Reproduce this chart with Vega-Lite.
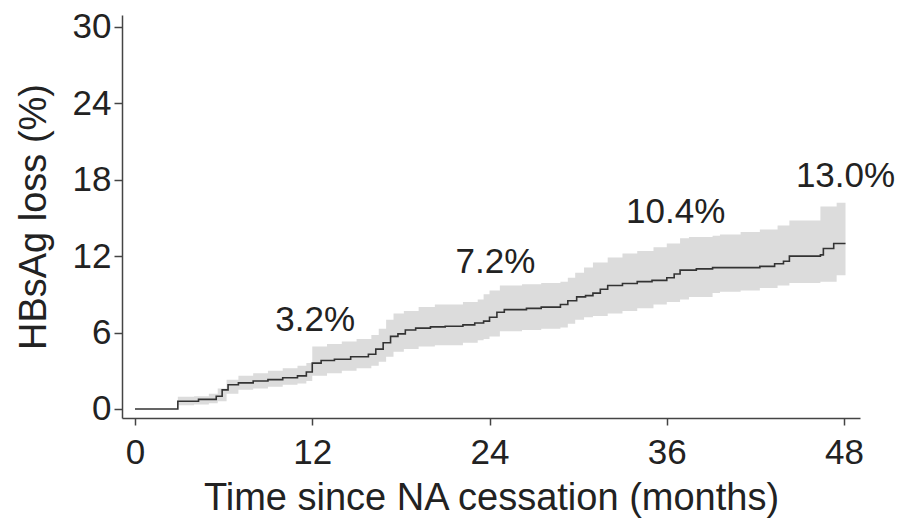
{
  "$schema": "https://vega.github.io/schema/vega-lite/v6.json",
  "width": 738,
  "height": 403,
  "autosize": "none",
  "padding": {"left": 122, "top": 15, "right": 44, "bottom": 102},
  "background": "white",
  "config": {
    "view": {"stroke": null},
    "font": "Liberation Sans",
    "axis": {
      "grid": false,
      "domainColor": "#444444",
      "domainWidth": 1.5,
      "tickColor": "#444444",
      "tickWidth": 1.5,
      "labelColor": "#222222",
      "titleColor": "#222222",
      "labelFont": "Liberation Sans",
      "titleFont": "Liberation Sans",
      "labelFontSize": 35,
      "titleFontSize": 38,
      "titleFontWeight": "normal"
    }
  },
  "datasets": {
    "ci": [
      {"t": 0, "lo": 0, "hi": 0},
      {"t": 2.9, "lo": 0.3, "hi": 0.95},
      {"t": 4.0, "lo": 0.35, "hi": 1.0},
      {"t": 5.0, "lo": 0.45, "hi": 1.2},
      {"t": 5.6, "lo": 0.6, "hi": 1.6},
      {"t": 6.2, "lo": 1.2, "hi": 2.3},
      {"t": 7, "lo": 1.5, "hi": 2.6},
      {"t": 8, "lo": 1.6, "hi": 2.8},
      {"t": 9, "lo": 1.75, "hi": 3.0},
      {"t": 10, "lo": 1.9, "hi": 3.2},
      {"t": 11, "lo": 2.0, "hi": 3.4},
      {"t": 11.6, "lo": 2.2, "hi": 3.6},
      {"t": 12, "lo": 2.6, "hi": 4.9},
      {"t": 13, "lo": 2.8, "hi": 5.1},
      {"t": 14, "lo": 3.0, "hi": 5.3},
      {"t": 15, "lo": 3.2, "hi": 5.5},
      {"t": 16, "lo": 3.4, "hi": 5.8},
      {"t": 16.5, "lo": 3.7, "hi": 6.3},
      {"t": 17, "lo": 4.1, "hi": 7.0},
      {"t": 17.5, "lo": 4.5, "hi": 7.5},
      {"t": 18.2, "lo": 4.7, "hi": 7.7},
      {"t": 19.2, "lo": 4.9, "hi": 8.0},
      {"t": 20.3, "lo": 5.0, "hi": 8.2},
      {"t": 22.2, "lo": 5.2, "hi": 8.4},
      {"t": 23.2, "lo": 5.4, "hi": 8.6},
      {"t": 23.6, "lo": 5.5, "hi": 9.0},
      {"t": 24, "lo": 5.7, "hi": 9.3},
      {"t": 24.7, "lo": 6.1, "hi": 9.7},
      {"t": 26.2, "lo": 6.2, "hi": 9.8},
      {"t": 27.5, "lo": 6.3, "hi": 9.9},
      {"t": 28.8, "lo": 6.4, "hi": 10.0},
      {"t": 29.3, "lo": 6.7, "hi": 10.3},
      {"t": 29.8, "lo": 7.0, "hi": 10.7},
      {"t": 30.4, "lo": 7.2, "hi": 11.1},
      {"t": 31, "lo": 7.3, "hi": 11.5},
      {"t": 32, "lo": 7.5, "hi": 11.9},
      {"t": 33, "lo": 7.7, "hi": 12.2},
      {"t": 34, "lo": 7.9, "hi": 12.4},
      {"t": 35.1, "lo": 8.2, "hi": 12.7},
      {"t": 36, "lo": 8.4, "hi": 13.0},
      {"t": 36.9, "lo": 8.6, "hi": 13.4},
      {"t": 37.5, "lo": 8.8, "hi": 13.5},
      {"t": 39.1, "lo": 9.1, "hi": 13.6},
      {"t": 39.6, "lo": 9.2, "hi": 13.7},
      {"t": 41, "lo": 9.3, "hi": 13.9},
      {"t": 42.3, "lo": 9.5, "hi": 14.1},
      {"t": 43.5, "lo": 9.7, "hi": 14.4},
      {"t": 44.3, "lo": 9.9, "hi": 14.8},
      {"t": 46.4, "lo": 10.0, "hi": 15.9},
      {"t": 47.5, "lo": 10.5, "hi": 16.2},
      {"t": 48.1, "lo": 10.5, "hi": 16.2}
    ],
    "km": [
      {"t": 0, "est": 0},
      {"t": 2.9, "est": 0.6},
      {"t": 4.3, "est": 0.75},
      {"t": 5.5, "est": 1.0},
      {"t": 5.9, "est": 1.5},
      {"t": 6.3, "est": 1.9},
      {"t": 7.0, "est": 2.05},
      {"t": 8.0, "est": 2.2},
      {"t": 9.0, "est": 2.3},
      {"t": 10.0, "est": 2.45},
      {"t": 11.0, "est": 2.6},
      {"t": 11.6, "est": 2.9},
      {"t": 12.0, "est": 3.6},
      {"t": 12.6, "est": 3.8},
      {"t": 13.5, "est": 3.9},
      {"t": 14.6, "est": 4.1},
      {"t": 15.8, "est": 4.3},
      {"t": 16.3, "est": 4.7},
      {"t": 16.8, "est": 5.2},
      {"t": 17.3, "est": 5.7},
      {"t": 17.8, "est": 5.9},
      {"t": 18.3, "est": 6.2},
      {"t": 19.0, "est": 6.35},
      {"t": 20.0, "est": 6.45},
      {"t": 21.0, "est": 6.5},
      {"t": 22.2, "est": 6.6},
      {"t": 23.0, "est": 6.75},
      {"t": 23.6, "est": 6.9},
      {"t": 24.0, "est": 7.2},
      {"t": 24.5, "est": 7.6},
      {"t": 25.0, "est": 7.8},
      {"t": 26.5, "est": 7.9},
      {"t": 27.5, "est": 8.0},
      {"t": 28.8, "est": 8.2},
      {"t": 29.3, "est": 8.5},
      {"t": 29.9, "est": 8.8},
      {"t": 30.5, "est": 8.9},
      {"t": 31.0, "est": 9.1},
      {"t": 31.5, "est": 9.4},
      {"t": 32.0, "est": 9.7},
      {"t": 33.0, "est": 9.85},
      {"t": 34.0, "est": 10.0},
      {"t": 35.0, "est": 10.1},
      {"t": 36.0, "est": 10.3},
      {"t": 36.5, "est": 10.6},
      {"t": 36.9, "est": 10.9},
      {"t": 38.0, "est": 11.0},
      {"t": 39.1, "est": 11.1},
      {"t": 42.3, "est": 11.2},
      {"t": 43.3, "est": 11.4},
      {"t": 43.9, "est": 11.6},
      {"t": 44.3, "est": 12.0},
      {"t": 46.4, "est": 12.1},
      {"t": 46.6, "est": 12.6},
      {"t": 47.3, "est": 13.0},
      {"t": 48.1, "est": 13.0}
    ],
    "ann": [
      {"t": 12.2, "v": 6.1, "label": "3.2%"},
      {"t": 24.4, "v": 10.7, "label": "7.2%"},
      {"t": 36.6, "v": 14.6, "label": "10.4%"},
      {"t": 48.1, "v": 17.4, "label": "13.0%"}
    ]
  },
  "layer": [
    {
      "data": {"name": "ci"},
      "mark": {"type": "area", "interpolate": "step-after", "color": "#dcdcdc", "opacity": 1},
      "encoding": {
        "x": {
          "field": "t", "type": "quantitative",
          "scale": {"domain": [-0.88, 49.08], "nice": false, "zero": false},
          "axis": {"values": [0, 12, 24, 36, 48], "title": "Time since NA cessation (months)", "tickSize": 7, "labelPadding": 10, "titlePadding": 9, "labelFlush": false}
        },
        "y": {
          "field": "lo", "type": "quantitative",
          "scale": {"domain": [-0.71, 30.94], "nice": false, "zero": false},
          "axis": {"values": [0, 6, 12, 18, 24, 30], "title": "HBsAg loss (%)", "tickSize": 8, "labelPadding": 3, "titlePadding": 19}
        },
        "y2": {"field": "hi"}
      }
    },
    {
      "data": {"name": "km"},
      "mark": {"type": "line", "interpolate": "step-after", "color": "#333333", "strokeWidth": 1.6},
      "encoding": {
        "x": {
          "field": "t", "type": "quantitative",
          "scale": {"domain": [-0.88, 49.08], "nice": false, "zero": false},
          "axis": {"values": [0, 12, 24, 36, 48], "title": "Time since NA cessation (months)", "tickSize": 7, "labelPadding": 10, "titlePadding": 9, "labelFlush": false}
        },
        "y": {
          "field": "est", "type": "quantitative",
          "scale": {"domain": [-0.71, 30.94], "nice": false, "zero": false},
          "axis": {"values": [0, 6, 12, 18, 24, 30], "title": "HBsAg loss (%)", "tickSize": 8, "labelPadding": 3, "titlePadding": 19}
        }
      }
    },
    {
      "data": {"name": "ann"},
      "mark": {"type": "text", "fontSize": 35, "align": "center", "baseline": "alphabetic", "color": "#222222", "font": "Liberation Sans"},
      "encoding": {
        "x": {
          "field": "t", "type": "quantitative",
          "scale": {"domain": [-0.88, 49.08], "nice": false, "zero": false},
          "axis": {"values": [0, 12, 24, 36, 48], "title": "Time since NA cessation (months)", "tickSize": 7, "labelPadding": 10, "titlePadding": 9, "labelFlush": false}
        },
        "y": {
          "field": "v", "type": "quantitative",
          "scale": {"domain": [-0.71, 30.94], "nice": false, "zero": false},
          "axis": {"values": [0, 6, 12, 18, 24, 30], "title": "HBsAg loss (%)", "tickSize": 8, "labelPadding": 3, "titlePadding": 19}
        },
        "text": {"field": "label"}
      }
    }
  ]
}
